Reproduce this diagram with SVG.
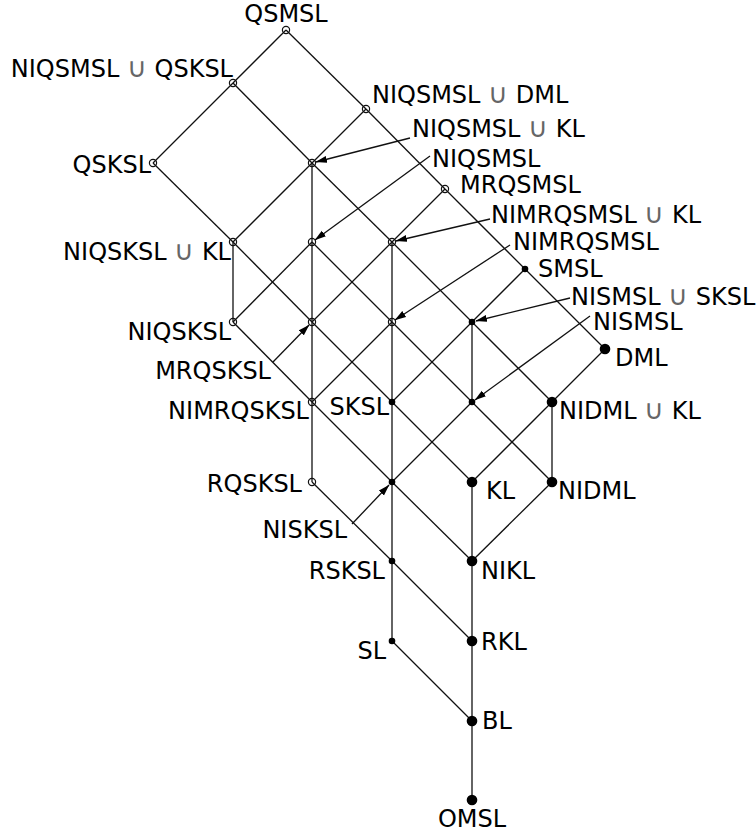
<svg xmlns="http://www.w3.org/2000/svg" width="756" height="837" viewBox="0 0 756 837">
  <style>
    .edge { stroke: #111; stroke-width: 1.3; fill: none; }
    .ptr { stroke: #111; stroke-width: 1.3; fill: none; marker-end: url(#head); }
    .open { fill: none; stroke: #111; stroke-width: 1.2; }
    .dot { fill: #000; }
    text { font-family: "DejaVu Sans", "Liberation Sans", sans-serif; font-size: 24px; fill: #000; }
    .cup { fill: #666; font-size: 27px; font-weight: 200; }
    .mid { text-anchor: middle; }
    .end { text-anchor: end; }
  </style>
  <defs>
    <marker id="head" markerWidth="12" markerHeight="8" refX="11" refY="4" orient="auto" markerUnits="userSpaceOnUse">
      <path d="M0,0.5 L11.5,4 L0,7.5 Z" fill="#000"/>
    </marker>
  </defs>

  <!-- lattice edges -->
  <g id="connectors">
    <line class="edge" x1="286" y1="30" x2="233" y2="83"/>
    <line class="edge" x1="286" y1="30" x2="366" y2="109"/>
    <line class="edge" x1="366" y1="109" x2="445" y2="189"/>
    <line class="edge" x1="445" y1="189" x2="525" y2="269"/>
    <line class="edge" x1="525" y1="269" x2="605" y2="349"/>
    <line class="edge" x1="233" y1="83" x2="153" y2="163"/>
    <line class="edge" x1="233" y1="83" x2="312" y2="163"/>
    <line class="edge" x1="366" y1="109" x2="312" y2="163"/>
    <line class="edge" x1="153" y1="163" x2="233" y2="242"/>
    <line class="edge" x1="312" y1="163" x2="233" y2="242"/>
    <line class="edge" x1="312" y1="163" x2="312" y2="242"/>
    <line class="edge" x1="312" y1="163" x2="392" y2="242"/>
    <line class="edge" x1="445" y1="189" x2="392" y2="242"/>
    <line class="edge" x1="233" y1="242" x2="233" y2="322"/>
    <line class="edge" x1="233" y1="242" x2="312" y2="322"/>
    <line class="edge" x1="312" y1="242" x2="233" y2="322"/>
    <line class="edge" x1="312" y1="242" x2="312" y2="322"/>
    <line class="edge" x1="312" y1="242" x2="392" y2="322"/>
    <line class="edge" x1="392" y1="242" x2="312" y2="322"/>
    <line class="edge" x1="392" y1="242" x2="392" y2="322"/>
    <line class="edge" x1="392" y1="242" x2="472" y2="322"/>
    <line class="edge" x1="525" y1="269" x2="472" y2="322"/>
    <line class="edge" x1="233" y1="322" x2="312" y2="402"/>
    <line class="edge" x1="312" y1="322" x2="312" y2="402"/>
    <line class="edge" x1="312" y1="322" x2="392" y2="402"/>
    <line class="edge" x1="392" y1="322" x2="312" y2="402"/>
    <line class="edge" x1="392" y1="322" x2="392" y2="402"/>
    <line class="edge" x1="392" y1="322" x2="472" y2="402"/>
    <line class="edge" x1="472" y1="322" x2="392" y2="402"/>
    <line class="edge" x1="472" y1="322" x2="472" y2="402"/>
    <line class="edge" x1="472" y1="322" x2="552" y2="402"/>
    <line class="edge" x1="605" y1="349" x2="552" y2="402"/>
    <line class="edge" x1="312" y1="402" x2="312" y2="482"/>
    <line class="edge" x1="312" y1="402" x2="392" y2="482"/>
    <line class="edge" x1="392" y1="402" x2="392" y2="482"/>
    <line class="edge" x1="392" y1="402" x2="472" y2="482"/>
    <line class="edge" x1="472" y1="402" x2="392" y2="482"/>
    <line class="edge" x1="472" y1="402" x2="552" y2="482"/>
    <line class="edge" x1="552" y1="402" x2="472" y2="482"/>
    <line class="edge" x1="552" y1="402" x2="552" y2="482"/>
    <line class="edge" x1="312" y1="482" x2="392" y2="561"/>
    <line class="edge" x1="392" y1="482" x2="392" y2="561"/>
    <line class="edge" x1="392" y1="482" x2="472" y2="561"/>
    <line class="edge" x1="472" y1="482" x2="472" y2="561"/>
    <line class="edge" x1="552" y1="482" x2="472" y2="561"/>
    <line class="edge" x1="392" y1="561" x2="392" y2="641"/>
    <line class="edge" x1="392" y1="561" x2="472" y2="641"/>
    <line class="edge" x1="472" y1="561" x2="472" y2="641"/>
    <line class="edge" x1="392" y1="641" x2="472" y2="721"/>
    <line class="edge" x1="472" y1="641" x2="472" y2="721"/>
    <line class="edge" x1="472" y1="721" x2="472" y2="800"/>
    <!-- label pointers -->
    <line class="ptr" x1="410" y1="138" x2="316" y2="162"/>
    <line class="ptr" x1="430" y1="156" x2="315" y2="240"/>
    <line class="ptr" x1="490" y1="219" x2="396" y2="241"/>
    <line class="ptr" x1="510" y1="245" x2="395" y2="320"/>
    <line class="ptr" x1="570" y1="298" x2="476" y2="321"/>
    <line class="ptr" x1="590" y1="316" x2="475" y2="400"/>
    <line class="ptr" x1="273" y1="362" x2="309" y2="325"/>
    <line class="ptr" x1="352" y1="524" x2="389" y2="485"/>
  </g>

  <!-- lattice nodes -->
  <g id="QSMSL"><circle class="open" cx="286" cy="30" r="3.6"/><text class="mid" x="286" y="22">QSMSL</text></g>
  <g id="NIQSMSL_QSKSL"><circle class="open" cx="233" cy="83" r="3.6"/><text class="end" x="233" y="77">NIQSMSL <tspan class="cup">∪</tspan> QSKSL</text></g>
  <g id="NIQSMSL_DML"><circle class="open" cx="366" cy="109" r="3.6"/><text x="372" y="103">NIQSMSL <tspan class="cup">∪</tspan> DML</text></g>
  <g id="QSKSL"><circle class="open" cx="153" cy="163" r="3.6"/><text class="end" x="151" y="173">QSKSL</text></g>
  <g id="NIQSMSL_KL"><circle class="open" cx="312" cy="163" r="3.6"/><text x="412" y="137">NIQSMSL <tspan class="cup">∪</tspan> KL</text></g>
  <g id="NIQSMSL"><circle class="open" cx="312" cy="242" r="3.6"/><text x="432" y="167">NIQSMSL</text></g>
  <g id="MRQSMSL"><circle class="open" cx="445" cy="189" r="3.6"/><text x="460" y="193">MRQSMSL</text></g>
  <g id="NIMRQSMSL_KL"><circle class="open" cx="392" cy="242" r="3.6"/><text x="491" y="223">NIMRQSMSL <tspan class="cup">∪</tspan> KL</text></g>
  <g id="NIMRQSMSL"><circle class="open" cx="392" cy="322" r="3.6"/><text x="513" y="250">NIMRQSMSL</text></g>
  <g id="SMSL"><circle class="dot" cx="525" cy="269" r="3.3"/><text x="538" y="277">SMSL</text></g>
  <g id="NIQSKSL_KL"><circle class="open" cx="233" cy="242" r="3.6"/><text class="end" x="231" y="260">NIQSKSL <tspan class="cup">∪</tspan> KL</text></g>
  <g id="NIQSKSL"><circle class="open" cx="233" cy="322" r="3.6"/><text class="end" x="231" y="340">NIQSKSL</text></g>
  <g id="MRQSKSL"><circle class="open" cx="312" cy="322" r="3.6"/><text class="end" x="271" y="379">MRQSKSL</text></g>
  <g id="NISMSL_SKSL"><circle class="dot" cx="472" cy="322" r="3.3"/><text x="571" y="305">NISMSL <tspan class="cup">∪</tspan> SKSL</text></g>
  <g id="NISMSL"><circle class="dot" cx="472" cy="402" r="3.3"/><text x="593" y="330">NISMSL</text></g>
  <g id="DML"><circle class="dot" cx="605" cy="349" r="5.3"/><text x="615" y="366">DML</text></g>
  <g id="NIMRQSKSL"><circle class="open" cx="312" cy="402" r="3.6"/><text class="end" x="309" y="419">NIMRQSKSL</text></g>
  <g id="SKSL"><circle class="dot" cx="392" cy="402" r="3.3"/><text class="end" x="389" y="415">SKSL</text></g>
  <g id="NIDML_KL"><circle class="dot" cx="552" cy="402" r="5.3"/><text x="559" y="419">NIDML <tspan class="cup">∪</tspan> KL</text></g>
  <g id="RQSKSL"><circle class="open" cx="312" cy="482" r="3.6"/><text class="end" x="302" y="492">RQSKSL</text></g>
  <g id="NISKSL"><circle class="dot" cx="392" cy="482" r="3.3"/><text class="end" x="347" y="538">NISKSL</text></g>
  <g id="KL"><circle class="dot" cx="472" cy="482" r="5.3"/><text x="486" y="499">KL</text></g>
  <g id="NIDML"><circle class="dot" cx="552" cy="482" r="5.3"/><text x="558" y="499">NIDML</text></g>
  <g id="RSKSL"><circle class="dot" cx="392" cy="561" r="3.3"/><text class="end" x="385" y="579">RSKSL</text></g>
  <g id="NIKL"><circle class="dot" cx="472" cy="561" r="5.3"/><text x="481" y="579">NIKL</text></g>
  <g id="SL"><circle class="dot" cx="392" cy="641" r="3.3"/><text class="end" x="386" y="659">SL</text></g>
  <g id="RKL"><circle class="dot" cx="472" cy="641" r="5.3"/><text x="481" y="650">RKL</text></g>
  <g id="BL"><circle class="dot" cx="472" cy="721" r="5.3"/><text x="482" y="729">BL</text></g>
  <g id="OMSL"><circle class="dot" cx="472" cy="800" r="5.3"/><text class="mid" x="472" y="827">OMSL</text></g>
</svg>
